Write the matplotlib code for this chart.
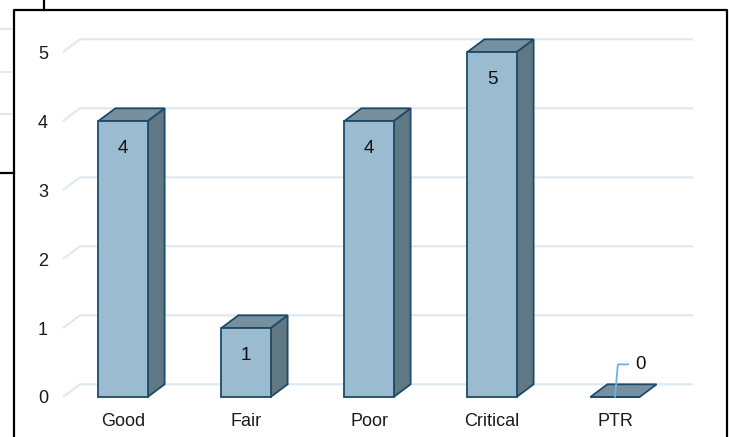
import matplotlib.pyplot as plt
from matplotlib.patches import Polygon
from matplotlib.lines import Line2D

categories = ["Good", "Fair", "Poor", "Critical", "PTR"]
counts = [4, 1, 4, 5, 0]
yticks = [0, 1, 2, 3, 4, 5]

FRONT = "#9bbbd0"
TOP = "#76909f"
SIDE = "#607884"
EDGE = "#1d4a68"
GRID = "#dde8f0"

plt.rcParams["font.family"] = ["Liberation Sans", "DejaVu Sans"]

fig = plt.figure(figsize=(7.29, 4.37), dpi=100)
ax = fig.add_axes([55 / 729, 37 / 437, 645 / 729, 370 / 437])
ax.set_xlim(-0.553, 4.691)
ax.set_ylim(-0.0435, 5.319)

# fake 3d depth (in data units)
DX = 17 / 123
DY = 12.7 / 69
W = 0.40

for v in yticks:
    ax.plot([-0.488, -0.488 + DX, 4.634], [v, v + DY, v + DY],
            color=GRID, lw=1.5, zorder=0, solid_capstyle="butt")

x = list(range(len(categories)))
bars = ax.bar(x, counts, width=W, color=FRONT, edgecolor=EDGE, lw=1.3, zorder=3)

for xi, h in zip(x, counts):
    x0, x1 = xi - W / 2, xi + W / 2
    if h > 0:
        side = Polygon([(x1, 0), (x1, h), (x1 + DX, h + DY), (x1 + DX, DY)],
                       closed=True, facecolor=SIDE, edgecolor=EDGE, lw=1.3, zorder=2)
        ax.add_patch(side)
    top = Polygon([(x0, h), (x0 + DX, h + DY), (x1 + DX, h + DY), (x1, h)],
                  closed=True, facecolor=TOP, edgecolor=EDGE, lw=1.3, zorder=2)
    ax.add_patch(top)
    if h > 0:
        ax.annotate(str(h), (xi, h), xytext=(0, -20), textcoords="offset points",
                    ha="center", va="center", fontsize=13.5, color="#111111", zorder=5)
    else:
        ax.annotate(str(h), (xi, h), xytext=(14.5, 23.5), textcoords="offset points",
                    ha="left", va="center", fontsize=13.5, color="#111111", zorder=5,
                    arrowprops=dict(arrowstyle="-", color="#6ab4e4", lw=1.3,
                                    shrinkA=3, shrinkB=0,
                                    connectionstyle="angle,angleA=0,angleB=85,rad=0"))

ax.set_yticks(yticks)
ax.set_yticklabels([str(t) for t in yticks], fontsize=13, color="#1a1a1a")
ax.set_xticks(x)
ax.set_xticklabels(categories, fontsize=13, color="#1a1a1a")
ax.tick_params(axis="y", length=0, pad=5)
ax.tick_params(axis="x", length=0, pad=9)
for s in ax.spines.values():
    s.set_visible(False)

# surrounding screenshot frame
H = 437.0
fw = 729.0
def fy(p):
    return 1 - p / H
fig.add_artist(Line2D([13.5 / fw, 13.5 / fw, 727 / fw, 727 / fw],
                      [0, fy(9.5), fy(9.5), 0], color="black", lw=1.6))
fig.add_artist(Line2D([44 / fw, 44 / fw], [fy(9.5), 1], color="black", lw=1.6))
fig.add_artist(Line2D([0, 13.5 / fw], [fy(173), fy(173)], color="black", lw=1.6))
for gy in [29, 72, 114]:
    fig.add_artist(Line2D([0, 11 / fw], [fy(gy), fy(gy)], color=GRID, lw=1.5))

fig.savefig("out.png", dpi=100)
